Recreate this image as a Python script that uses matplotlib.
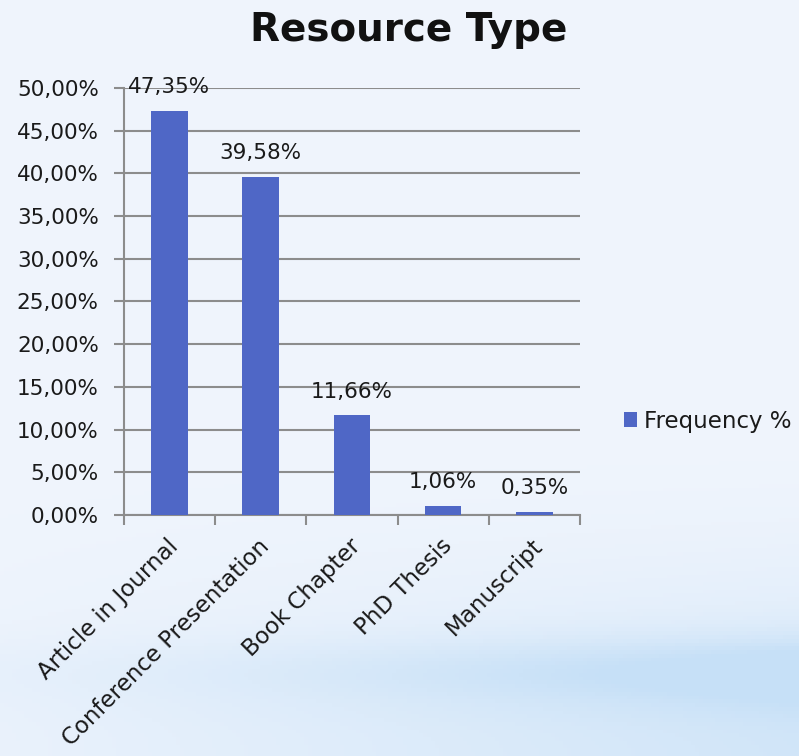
import matplotlib.pyplot as plt
import matplotlib.transforms as mtransforms
import numpy as np

plt.rcParams['font.family'] = ['DejaVu Sans']

categories = ['Article in Journal', 'Conference Presentation', 'Book Chapter', 'PhD Thesis', 'Manuscript']
freq = [47.35, 39.58, 11.66, 1.06, 0.35]
yticks = [0, 5, 10, 15, 20, 25, 30, 35, 40, 45, 50]

fig = plt.figure(figsize=(7.99, 7.56), dpi=100)

# background gradient
bg = fig.add_axes([0, 0, 1, 1], zorder=-10)
h, w = 200, 200
yy, xx = np.mgrid[0:1:h * 1j, 0:1:w * 1j]
top = np.array([0.94, 0.96, 0.99])
blue = np.array([0.78, 0.88, 0.97])
t = np.clip((yy - 0.55) / 0.4, 0, 1) ** 2 * (0.15 + 0.6 * xx)
band = np.exp(-((yy - 0.89) / 0.045) ** 2) * (0.15 + 0.85 * xx ** 1.5)
t = np.clip(t + 0.8 * band, 0, 1)
img = top[None, None, :] * (1 - t[..., None]) + blue[None, None, :] * t[..., None]
bg.imshow(img, aspect='auto', extent=[0, 1, 1, 0])
bg.axis('off')

ax = fig.add_axes([0.155, 0.3188, 0.571, 0.5648])
ax.patch.set_alpha(0)
x = np.arange(len(categories))
ax.bar(x, freq, width=0.4, color='#4F67C6', zorder=3, label='Frequency %')
for xi, v in zip(x, freq):
    ax.text(xi, v + 1.6, ('%.2f%%' % v).replace('.', ','), ha='center', va='bottom',
            fontsize=15.5, color='#1a1a1a', zorder=4)

ax.set_xlim(-0.5, len(categories) - 0.5)
ax.set_ylim(0, 50)
ax.set_yticks(yticks)
ax.set_yticklabels([('%.2f%%' % v).replace('.', ',') for v in yticks], fontsize=15.5, color='#1a1a1a')
ax.yaxis.grid(True, color='#8c8c8c', linewidth=1.5, zorder=0)
ax.set_xticks(np.arange(-0.5, len(categories), 1.0))
ax.set_xticklabels([])
ax.set_xticks(x, minor=True)
ax.set_xticklabels(categories, minor=True, rotation=45, ha='right', rotation_mode='anchor',
                   fontsize=16.5, color='#1a1a1a')
ax.tick_params(axis='x', which='minor', length=0, pad=14)
ax.tick_params(axis='x', which='major', length=7, width=1.5, color='#8c8c8c')
ax.tick_params(axis='y', length=7, width=1.5, color='#8c8c8c', pad=11)
off = mtransforms.ScaledTranslation(-3 / 100, 0, fig.dpi_scale_trans)
for lab in ax.get_xticklabels(minor=True):
    lab.set_transform(lab.get_transform() + off)
for s in ['top', 'right']:
    ax.spines[s].set_visible(False)
for s in ['left', 'bottom']:
    ax.spines[s].set_color('#8c8c8c')
    ax.spines[s].set_linewidth(1.5)

fig.text(0.511, 0.96, 'Resource Type', ha='center', va='center', fontsize=28, fontweight='bold',
         color='#111111')

ax.legend(loc='center left', bbox_to_anchor=(1.05, 0.22), frameon=False, fontsize=16.5,
          handlelength=0.6, handleheight=0.6, handletextpad=0.3, labelcolor='#1a1a1a')

fig.savefig('out.png', dpi=100)
